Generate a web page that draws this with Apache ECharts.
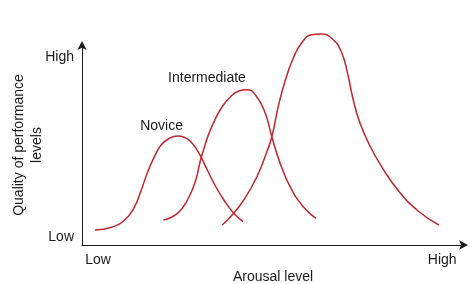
<!DOCTYPE html>
<html><head><meta charset="utf-8">
<script src="https://cdn.jsdelivr.net/npm/echarts@6/dist/echarts.min.js"></script>
<style>html,body{margin:0;padding:0;background:#fff}#c{width:474px;height:284px}</style>
</head><body><div id="c"></div>
<script>
const noviceData = [[3.38,7.5],[7.71,8.85],[11.17,12.5],[13.77,19.15],[15.51,27.5],[17.22,36.65],[18.96,44.15],[20.70,50],[22.86,53.35],[25.01,54.5],[26.75,53.85],[28.49,51.65],[30.65,45.85],[32.39,39.15],[34.55,30.85],[37.14,22.5],[39.74,15.85],[42.16,11.65]];
const intermediateData = [[21.30,12.5],[25.01,15.85],[27.61,22.5],[29.79,32.5],[30.91,41.65],[31.95,48.35],[33.25,55.85],[34.99,63.35],[36.70,69.15],[38.88,74.15],[41.04,77],[43.19,77.65],[45.6,74.5],[47.97,65.85],[49.69,54.15],[51.87,40.85],[54.47,29.15],[57.92,19.15],[61.22,13.35]];
const eliteData = [[36.70,10],[39.30,15],[42.34,22.5],[45.79,34.15],[48.39,46.65],[49.69,54.15],[51.43,69.65],[53.17,82],[55.32,93.5],[57.48,101],[60.08,105.15],[62.68,105.5],[65.27,103.5],[67.87,96.65],[69.61,85],[70.91,73.35],[72.65,61.65],[75.25,50],[78.70,38.35],[83.04,26.65],[88.23,16.65],[93.43,10]];
const seriesNames = ['Novice','Intermediate','Elite'];
const xTickValues = [4.2, 94.3];
const xTickLabels = ['Low','High'];
const yTickValues = [4, 94];
const yTickLabels = ['Low','High'];
const xTitle = 'Arousal level';
const yTitle = 'Quality of performance\nlevels';

const red = '#c1272d';
const ink = '#1a1a1a';
const font = 'Liberation Sans, Arial, sans-serif';
const fs = 14;
const labelOffsets = [[-16,1],[-40,-1],[-10,1]];
const datasets = [noviceData, intermediateData, eliteData];

const chart = echarts.init(document.getElementById('c'));
chart.setOption({
  animation:false,
  grid:{left:82,right:10,top:45,bottom:39,outerBoundsMode:'none',containLabel:false},
  xAxis:{type:'value',min:0,max:100,
    name:xTitle,nameLocation:'middle',nameGap:25,nameMoveOverlap:false,
    nameTextStyle:{color:ink,fontSize:fs,fontFamily:font},
    axisLine:{show:true,lineStyle:{color:ink,width:1},symbol:['none','arrow'],symbolSize:[7,9],symbolOffset:[0,4]},
    axisTick:{show:false},splitLine:{show:false},
    axisLabel:{customValues:xTickValues,formatter:(v)=>xTickLabels[xTickValues.indexOf(v)],color:ink,fontSize:fs,fontFamily:font,margin:8}
  },
  yAxis:{type:'value',min:0,max:100,
    name:yTitle,nameLocation:'middle',nameGap:36,nameMoveOverlap:false,
    nameTextStyle:{color:ink,fontSize:fs,fontFamily:font,lineHeight:18},
    axisLine:{show:true,lineStyle:{color:ink,width:1},symbol:['none','arrow'],symbolSize:[7,9],symbolOffset:[0,4]},
    axisTick:{show:false},splitLine:{show:false},
    axisLabel:{customValues:yTickValues,formatter:(v)=>yTickLabels[yTickValues.indexOf(v)],color:ink,fontSize:fs,fontFamily:font,margin:8}
  },
  series: datasets.map((d,i)=>({
    type:'line',name:seriesNames[i],data:d,smooth:0.5,clip:false,showSymbol:false,
    lineStyle:{color:red,width:1.5},
    markPoint:{symbol:'circle',symbolSize:0,data:[{type:'max',name:seriesNames[i]}],
      label:{show:true,position:'top',distance:4,offset:labelOffsets[i],formatter:'{b}',color:ink,fontSize:fs,fontFamily:font}}
  }))
});
</script></body></html>
